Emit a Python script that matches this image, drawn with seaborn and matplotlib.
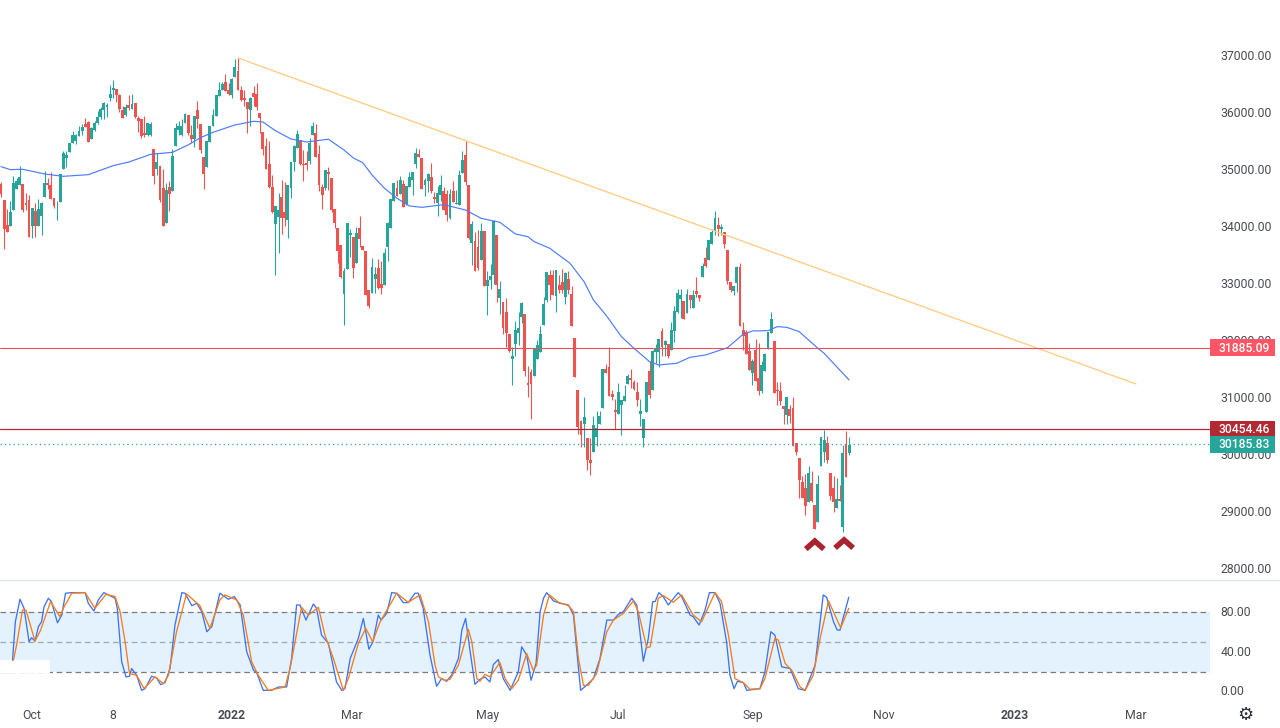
import matplotlib
matplotlib.use('Agg')
import matplotlib.pyplot as plt
from matplotlib.patches import Rectangle
from matplotlib.transforms import blended_transform_factory, ScaledTranslation
import seaborn as sns

# daily candles
opens = [
    34760, 34470, 34040, 34010, 34290, 34660, 34740, 34760, 34420, 34470,
    34020, 34280, 34020, 34190, 34520, 34770, 34740, 34510, 34380, 34440,
    35020, 35210, 35320, 35470, 35510, 35600, 35680, 35810, 35840, 35540,
    35700, 35830, 35930, 36050, 36110, 36260, 36400, 36420, 36320, 36050,
    35970, 36140, 36070, 36180, 35910, 35900, 35650, 35610, 35610, 35370,
    35020, 35070, 34680, 34070, 34700, 34630, 35420, 35700, 35610, 35830,
    35970, 35610, 35540, 36050, 35810, 35230, 35050, 35490, 35770, 35950,
    36300, 36400, 36540, 36400, 36320, 36630, 36740, 36400, 36260, 36190,
    36050, 36350, 36330, 36000, 35670, 35420, 35110, 34700, 34050, 34180,
    34530, 34260, 34120, 34680, 35140, 35390, 35530, 35110, 35120, 35160,
    35610, 35650, 35280, 34700, 34680, 34970, 34860, 34320, 33980, 33680,
    32830, 33260, 33860, 33830, 33370, 33980, 33670, 33580, 32900, 32840,
    33090, 33280, 33000, 32980, 33650, 33980, 34460, 34680, 34580, 34760,
    34400, 34700, 34830, 35110, 35280, 35210, 34740, 34810, 34880, 34530,
    34420, 34560, 34630, 34580, 34160, 34630, 34400, 34390, 34950, 35260,
    34740, 33720, 33760, 33650, 33420, 33930, 32970, 33070, 33160, 33860,
    32760, 32680, 32510, 32120, 31680, 31950, 32140, 32420, 32470, 31260,
    31460, 31390, 31680, 31810, 32280, 32720, 33160, 33160, 32790, 32980,
    33040, 32770, 33090, 32830, 32050, 31140, 30600, 30540, 30300, 29910,
    30050, 30320, 30540, 30830, 31510, 31540, 31070, 30790, 30720, 30880,
    30950, 31250, 31350, 31280, 31110, 30720, 30300, 30760, 31470, 31140,
    31810, 31810, 32180, 31930, 31950, 31840, 32180, 32510, 32740, 32700,
    32490, 32810, 32580, 32880, 32810, 33120, 33460, 33420, 33700, 33930,
    34040, 33970, 33910, 33600, 33040, 32880, 33020, 33300, 32190, 32160,
    31830, 31440, 31840, 31350, 31120, 31470, 31860, 32140, 32000, 31140,
    31120, 30860, 30700, 30810, 30830, 30210, 29950, 29530, 29420, 29180,
    29510, 29120, 28830, 29810, 30050, 30210, 29680, 29420, 29070, 29230,
    28740, 30190, 30040,
]
highs = [
    34790, 34470, 34320, 34450, 34900, 34860, 35070, 34760, 34600, 34560,
    34330, 34420, 34490, 34440, 34980, 34860, 34970, 34510, 34460, 34930,
    35330, 35330, 35470, 35680, 35630, 35770, 35810, 35910, 35860, 35760,
    35860, 36040, 36110, 36190, 36180, 36490, 36580, 36420, 36330, 36120,
    36160, 36320, 36330, 36180, 35950, 35900, 35950, 35830, 35840, 35370,
    35300, 35070, 35020, 34770, 34810, 35370, 35830, 35860, 35900, 36000,
    35970, 35790, 35950, 36210, 35810, 35230, 35510, 35770, 36070, 36320,
    36540, 36540, 36680, 36530, 36610, 36950, 36970, 36470, 36400, 36190,
    36280, 36470, 36530, 36000, 35670, 35560, 35510, 34910, 34370, 34600,
    34830, 34790, 34740, 35140, 35440, 35700, 35530, 35350, 35330, 35560,
    35840, 35810, 35440, 34760, 35000, 35050, 34860, 34320, 33980, 33680,
    33280, 34070, 33970, 33830, 34000, 34190, 33670, 33580, 32900, 33460,
    33300, 33440, 33400, 33630, 34090, 34490, 34770, 34830, 34900, 34830,
    34720, 34970, 34970, 35390, 35370, 35210, 34860, 34950, 35120, 34610,
    34720, 34910, 34700, 34650, 34670, 34810, 34650, 35000, 35330, 35510,
    34740, 34110, 33910, 33950, 34070, 33930, 33230, 33350, 34120, 33860,
    33050, 32680, 32760, 32120, 31900, 32350, 32510, 32680, 32470, 31560,
    31510, 31880, 32020, 32260, 32770, 33210, 33250, 33250, 33250, 33160,
    33260, 33210, 33230, 32970, 32050, 31140, 30610, 31020, 30300, 30300,
    30680, 30770, 30770, 31510, 31600, 31900, 31140, 30980, 31260, 30970,
    31230, 31420, 31510, 31320, 31280, 30980, 30630, 31280, 31650, 31840,
    31950, 32040, 32230, 32020, 31950, 32330, 32610, 32910, 32910, 32700,
    32910, 32810, 32900, 33120, 32810, 33370, 33650, 33770, 33970, 34280,
    34180, 34050, 33910, 33600, 33040, 32970, 33320, 33370, 32330, 32190,
    31970, 31680, 32040, 31970, 31650, 31790, 32160, 32510, 32000, 31280,
    31280, 30860, 31020, 30880, 31020, 30210, 29950, 29630, 29670, 29810,
    29720, 29120, 29650, 30320, 30440, 30330, 29680, 29630, 29600, 29470,
    30180, 30420, 30320,
]
lows = [
    34530, 33610, 33920, 34010, 34290, 34660, 34740, 34260, 34300, 33830,
    33800, 33830, 34020, 33860, 34520, 34670, 34490, 34330, 34120, 34440,
    35020, 35050, 35320, 35470, 35460, 35600, 35610, 35760, 35490, 35540,
    35680, 35810, 35900, 35900, 35930, 36210, 36260, 36190, 36020, 35910,
    35950, 36050, 36070, 35910, 35670, 35560, 35580, 35600, 35600, 34760,
    34910, 34440, 34020, 34070, 34280, 34630, 35420, 35610, 35600, 35830,
    35610, 35470, 35400, 35740, 35300, 34670, 35050, 35490, 35770, 35950,
    36300, 36400, 36390, 36320, 36260, 36630, 36400, 36210, 36120, 35650,
    35770, 36120, 36050, 35650, 35260, 35020, 34680, 34250, 33160, 33540,
    33880, 34020, 33810, 34510, 34980, 35390, 35090, 34810, 35000, 35110,
    35610, 35230, 34630, 34320, 34650, 34650, 34260, 33980, 33370, 33110,
    32280, 33260, 33470, 33110, 33370, 33650, 33600, 32810, 32580, 32840,
    32840, 32910, 32830, 32980, 33400, 33980, 34460, 34540, 34580, 34350,
    34390, 34700, 34560, 35040, 35230, 34670, 34540, 34610, 34600, 34420,
    34190, 34460, 34300, 34110, 34140, 34440, 34400, 34390, 34950, 34740,
    33790, 33330, 33230, 33250, 33420, 32970, 32460, 32910, 33000, 32680,
    32470, 32120, 31900, 31810, 31230, 31740, 31930, 32310, 31390, 31020,
    30630, 31390, 31680, 31810, 32280, 32680, 32720, 32810, 32510, 32840,
    32840, 32650, 32830, 32260, 31370, 30370, 30140, 30140, 29740, 29650,
    30050, 30160, 30540, 30830, 31440, 31030, 30970, 30460, 30720, 30350,
    30950, 31250, 31180, 31140, 30860, 30510, 30140, 30760, 31000, 31140,
    31610, 31540, 31740, 31740, 31700, 31840, 31980, 32490, 32400, 32390,
    32490, 32580, 32580, 32770, 32700, 33120, 33300, 33420, 33700, 33860,
    33840, 33860, 33630, 33000, 32860, 32810, 32860, 32260, 31840, 31770,
    31490, 31230, 31300, 31050, 31090, 31470, 31860, 32140, 31090, 30880,
    30880, 30540, 30540, 30560, 30160, 30000, 29250, 29250, 28950, 29180,
    29180, 28700, 28830, 29810, 29880, 29860, 29210, 29000, 29070, 29190,
    28650, 29610, 30000,
]
closes = [
    34580, 33970, 33920, 34260, 34770, 34800, 34880, 34300, 34390, 33830,
    34330, 34010, 34320, 34420, 34770, 34740, 34490, 34370, 34390, 34930,
    35300, 35260, 35470, 35610, 35610, 35680, 35760, 35760, 35490, 35740,
    35830, 35930, 36070, 36180, 36140, 36330, 36440, 36320, 36070, 35910,
    36110, 36090, 36160, 35930, 35860, 35600, 35610, 35830, 35810, 34900,
    35140, 34470, 34020, 34650, 34580, 35250, 35740, 35770, 35770, 35980,
    35650, 35540, 35950, 35900, 35350, 34930, 35510, 35770, 35970, 36320,
    36400, 36510, 36390, 36330, 36600, 36810, 36400, 36230, 36230, 36070,
    36260, 36280, 36110, 35910, 35370, 35020, 34700, 34260, 34370, 34300,
    34160, 34160, 34740, 35140, 35420, 35630, 35110, 35090, 35090, 35470,
    35770, 35230, 34740, 34560, 35000, 34930, 34300, 34070, 33580, 33120,
    33230, 34070, 33900, 33280, 33900, 33790, 33600, 32810, 32610, 33300,
    33180, 32930, 32930, 33540, 34070, 34490, 34770, 34540, 34830, 34350,
    34720, 34880, 34970, 35300, 35230, 34670, 34830, 34930, 34630, 34490,
    34600, 34740, 34300, 34210, 34580, 34440, 34420, 34910, 35180, 34790,
    33810, 34050, 33230, 33280, 33930, 32970, 33070, 33140, 34110, 32980,
    32910, 32230, 32140, 31830, 31740, 32190, 32230, 32670, 31470, 31230,
    31250, 31880, 31930, 32120, 32650, 33210, 32980, 32810, 33250, 32900,
    32900, 33190, 32900, 32260, 31370, 30490, 30350, 30670, 29910, 29860,
    30530, 30470, 30680, 31510, 31440, 31030, 31020, 30760, 31110, 30970,
    31040, 31390, 31320, 31160, 30970, 30770, 30630, 31280, 31050, 31830,
    31880, 32040, 31900, 32000, 31740, 32190, 32530, 32840, 32810, 32390,
    32830, 32720, 32810, 32830, 32760, 33320, 33320, 33770, 33910, 34160,
    33970, 34000, 33700, 33050, 32900, 32970, 33300, 32260, 32090, 31770,
    31490, 31650, 31300, 31120, 31580, 31770, 32160, 32390, 31090, 31120,
    30950, 30810, 31020, 30680, 30160, 30050, 29560, 29250, 29110, 29680,
    29190, 28700, 29490, 30320, 30260, 29910, 29280, 29180, 29230, 29190,
    30040, 29610, 30180,
]

# moving average, (bar, price) read at the bends
ma_bars = [
    0, 3, 7, 14, 20, 28, 36, 41, 48, 55, 60, 64, 68, 75, 81, 84, 88, 93, 98, 105,
    110, 113, 116, 119, 123, 127, 131, 135, 142, 149, 154, 160, 165, 169, 171,
    176, 182.5, 187, 190, 194, 199, 203, 208, 211, 216.7, 221, 226, 233, 238,
    241, 246, 249, 252, 256, 262, 264, 272,
]
ma_prices = [
    35059, 35006, 35012, 34930, 34889, 34918, 35077, 35140, 35275, 35310, 35439,
    35567, 35661, 35790, 35854, 35842, 35690, 35544, 35491, 35540,
    35351, 35211, 35129, 34912, 34679, 34503, 34369, 34345, 34392, 34298, 34152,
    34082, 33877, 33830, 33743, 33626, 33363, 33041, 32720, 32456, 32076, 31872,
    31638, 31579, 31609, 31714, 31755, 31883, 32117, 32176, 32182, 32252, 32240,
    32164, 31872, 31784, 31316,
]

# stochastic %K and %D
stoch_k_bars = [
    3.7, 4.6, 6.1, 7.4, 9.0, 9.8, 10.9, 12, 13, 13.8, 15.2, 16.2, 18.1, 19.5, 20.7,
    22.7, 27, 28, 29.8, 31.2, 33, 34.4, 36.6, 37.3, 38.7, 40.1, 41.2, 41.9, 43.5,
    45.1, 46.2, 48.3, 49.9, 51.2, 52.6, 54.2, 55.8, 58, 59, 61.2, 62.8, 64.4, 66,
    67.6, 70.2, 72.9, 74.8, 76.7, 78.8, 81, 82, 84.1, 86.8, 89, 91.6, 93.2, 94.8,
    95.9, 97.8, 100.2, 101.2, 102.8, 105, 107.6, 109.3, 110.3, 112, 114.6, 116.2,
    118, 119.3, 121, 121.9, 123.7, 125.3, 126.9, 129, 130.6, 132.8, 133.8, 135.4,
    137.6, 139.7, 141.3, 142.9, 144.5, 146.7, 147.8, 149, 150.4, 152, 153.6, 155.2,
    156.8, 157.9, 159.5, 161.1, 163.3, 165.9, 167, 168.6, 170, 171.6, 172.9, 174,
    175, 177.2, 179.3, 182, 183.6, 184.6, 185.9, 187.8, 190, 192.1, 194.3, 196.4,
    198, 199.6, 202.3, 203.9, 206, 207.6, 209, 209.8, 211, 212.4, 214, 217.2, 218.3,
    221, 222, 223.9, 225.8, 227.2, 229, 230.6, 232.7, 233.8, 235.1, 236.2, 238.1,
    239.2, 243.4, 245, 246.9, 248.2, 250.4, 253.1, 255.7, 257.9, 261.1, 262.1,
    263.7, 264.8, 267, 268.2, 269.1, 270.2, 271.9,
]
stoch_k = [
    31.6, 70.5, 93.3, 84.1, 50.2, 54.3, 50.9, 65.5, 70.5, 85.8, 94.3, 90.9, 69.5, 77.3, 99.4,
    100, 100, 89.2, 81.4, 92.6, 100, 97.7, 94.3, 84.1, 29.9, 14.6, 15.3, 23.1, 16.3,
    1, 2.7, 15.3, 13.6, 6.8, 8.8, 23.1, 67.2, 100, 99.4, 86.8, 89.2, 80.7, 60.4,
    65.5, 99.4, 93.3, 96, 87.5, 40, 21.4, 19, 1, 1, 4.4, 4.4, 33.3, 87.5,
    87.5, 72.2, 88.5, 84.1, 57, 48.5, 9.5, 1, 2.7, 33.3, 53.6, 73.9,
    42.7, 50.2, 77.3, 72.2, 79, 100, 99.4, 89.9, 89.9, 99.4, 99.4, 84.1,
    36.6, 5.1, 12.9, 10.2, 16.3, 33.3, 62.1, 73.9, 41.7, 7.1, 12.2, 14.6,
    9.5, 27.1, 32.2, 12.9, 1, 19.7, 45.1, 36.6, 11.2, 28.2, 80.7, 94.3,
    100, 91.6, 89.2, 87.5, 77.3, 43.4, 1, 6.1, 12.9, 33.3, 72.2, 72.2,
    78, 80.7, 94.3, 87.5, 30.5, 53.6, 90.9, 90.9, 100, 96, 87.5, 100, 96,
    77.3, 75.6, 67.2, 82.4, 100, 100, 89.2, 50.2, 16.3, 2.7, 10.2, 8.8,
    1, 2.7, 19.7, 60.4, 57, 24.8, 23.1, 2.7, 1, 26.5, 53.6,
    97.7, 95.3, 70.5, 62.1, 62.1, 75.6, 95.3,
]
stoch_d_bars = [
    4, 5, 6.9, 8, 10.9, 12.7, 15.9, 18.9, 20, 22.7, 27, 30.1, 33.7, 36.6, 38.2, 39.8,
    41.2, 43.5, 45.9, 49.4, 52.1, 53.7, 56.3, 59.5, 63.8, 67, 70.2, 71.8, 75.6, 77.7,
    80.4, 82.5, 85.7, 91.1, 92.7, 96.4, 98.6, 101.8, 103.9, 106.6, 109.8, 111.4, 114.6,
    117, 119.2, 121.6, 126.9, 130.6, 134.4, 137.1, 139.2, 140.3, 142.4, 144, 146.7,
    149.9, 151, 152.6, 153.6, 155.2, 156.8, 160, 161.7, 163.8, 165.9, 168.6, 170.7,
    171.8, 174, 175.9, 178.8, 182, 183.6, 185.2, 186.8, 188.4, 191, 194.3, 196.4,
    199.6, 202.8, 204.4, 207.1, 208.2, 210.8, 212.4, 215.6, 218.3, 222, 224.7, 229,
    231.1, 233.3, 235.4, 238.1, 240.2, 243.4, 245, 248.2, 249.3, 251.5, 253.6, 256.3,
    257.9, 260.5, 262.7, 265.4, 269.3, 271.9,
]
stoch_d = [
    31.6, 46.8, 82.4, 82.4, 50.9, 62, 90.9, 75.6, 84.1, 99.4, 100, 84.1, 98.3, 96, 80.7, 50.2,
    18, 16.3, 2.7, 14.6, 7.8, 16.3, 60.4, 98.7, 86.8, 63.8, 92.6, 97.7, 92.6, 77.3,
    29.9, 16.3, 1, 4.4, 23.1, 85.1, 77.3, 85.1, 57, 33.3, 1, 12.9, 48.5,
    63.8, 50.2, 70.5, 99.4, 90.2, 97.7, 70.5, 26.5, 14.6, 11.2, 12.2, 26.5,
    62.7, 50.2, 12.9, 10.2, 17.3, 14.6, 29.2, 12.9, 2.7, 11.2, 38.3, 21.4,
    26.5, 77.3, 97.7, 90.2, 86.8, 80.7, 33.3, 6.1, 6.1, 18, 60.4, 72.2,
    79, 91.6, 80.7, 44.1, 45.1, 94.3, 97, 90.2, 97.7, 77.3, 70.5, 100,
    90.9, 57, 12.9, 8.8, 2.1, 2.7, 12.9, 53.6, 51.9, 28.2, 21.4, 4.4,
    1, 16.3, 53.6, 91.6, 64.4, 84.1,
]

# levels and drawings
trend_bars = [76, 364]
trend_prices = [36965, 31246]
support_level = 31885.09
resist_level = 30454.46
last_close = 30185.83
chevron_bars = [261, 270.4]
chevron_prices = [28490, 28510]

price_ticks = [28000, 29000, 30000, 31000, 32000, 33000, 34000, 35000, 36000, 37000]
stoch_ticks = [0, 40, 80]
stoch_levels = [80, 50, 20]
date_ticks = [10, 36, 74, 112.6, 156, 198, 241, 283, 325, 364]
date_labels = ['Oct', '8', '2022', 'Mar', 'May', 'Jul', 'Sep', 'Nov', '2023', 'Mar']

UP = '#26a69a'
DOWN = '#ef5350'
TEXT = '#4a4c55'
W, H = 1280, 728

sns.set_theme(style='white')
plt.rcParams['font.family'] = ['Roboto', 'DejaVu Sans']

fig = plt.figure(figsize=(W / 100, H / 100), dpi=100, facecolor='white')
ax = fig.add_axes([0, 1 - 579 / H, 1210 / W, 579 / H])
ax_s = fig.add_axes([0, 1 - 702 / H, 1210 / W, 122 / H], sharex=ax)

# candles
bars = list(range(len(opens)))
colors = [UP if c >= o else DOWN for o, c in zip(opens, closes)]
ax.vlines(bars, lows, highs, colors=colors, linewidth=0.8, zorder=3)
ax.bar(bars, [abs(c - o) for o, c in zip(opens, closes)],
       bottom=[min(o, c) for o, c in zip(opens, closes)],
       width=0.92, color=colors, linewidth=0, zorder=3)

# moving average and trend line
sns.lineplot(x=ma_bars, y=ma_prices, ax=ax, color='#4d7cf5', linewidth=0.85,
             sort=False, estimator=None, zorder=4)
sns.lineplot(x=trend_bars, y=trend_prices, ax=ax, color='#ffcc80', linewidth=0.95,
             sort=False, estimator=None, zorder=4)

ax.axhline(support_level, color='#e8505b', linewidth=0.8, zorder=4)
ax.axhline(resist_level, color='#b22833', linewidth=0.9, zorder=4)
ax.axhline(last_close, color=UP, linewidth=0.9, linestyle=(0, (1, 2.5)), zorder=4)

# double bottom chevrons
for b, p in zip(chevron_bars, chevron_prices):
    ax.plot([b - 2.9, b, b + 2.9], [p - 140, p, p - 140], color='#a8242f',
            linewidth=4, solid_joinstyle='miter', solid_capstyle='butt', zorder=5)

# price labels on the scale
label_tr = blended_transform_factory(ax.transAxes, ax.transData)
for price, col in [(support_level, '#ff5566'), (resist_level, '#b22833'), (last_close, UP)]:
    ax.add_patch(Rectangle((1.0, price - 150), 65 / 1210, 300, transform=label_tr,
                           facecolor=col, edgecolor='none', clip_on=False, zorder=6))
    ax.text(1.0 + 34 / 1210, price - 8, f'{price:.2f}', transform=label_tr, color='white',
            fontsize=8.7, fontweight='medium', ha='center', va='center', zorder=7, clip_on=False)

ax.set_xlim(-1 / 3.118, 1209 / 3.118)
ax.set_ylim(27825, 37982)
ax.yaxis.tick_right()
ax.set_yticks(price_ticks)
ax.set_yticklabels([f'{t:.2f}' for t in price_ticks])
ax.tick_params(axis='y', length=0, pad=7.5, labelsize=8.8, labelcolor=TEXT)
ax.tick_params(axis='x', length=0, labelbottom=False)
ax.grid(False)
sns.despine(ax=ax, left=True, bottom=True, right=True, top=True)

# stochastic pane
ax_s.axhspan(20, 80, color='#e3f2fd', linewidth=0, zorder=1)
for lev, col in zip(stoch_levels, ['#787b86', '#a3a6af', '#787b86']):
    ax_s.axhline(lev, color=col, linewidth=0.9, linestyle=(0, (4.5, 3)), zorder=2)
ax_s.axhspan(19, 31.4, xmin=0, xmax=50 / 1210, color='white', linewidth=0, zorder=3)

sns.lineplot(x=stoch_k_bars, y=stoch_k, ax=ax_s, color='#3d74f5', linewidth=0.95,
             sort=False, estimator=None, zorder=4)
sns.lineplot(x=stoch_d_bars, y=stoch_d, ax=ax_s, color='#f57c1f', linewidth=0.95,
             sort=False, estimator=None, zorder=5)

ax_s.set_ylim(-10.8, 112.8)
ax_s.yaxis.tick_right()
ax_s.set_yticks(stoch_ticks)
ax_s.set_yticklabels([f'{t:.2f}' for t in stoch_ticks])
ax_s.tick_params(axis='y', length=0, pad=7.5, labelsize=8.8, labelcolor=TEXT)
ax_s.set_xticks(date_ticks)
ax_s.set_xticklabels(date_labels)
ax_s.tick_params(axis='x', length=0, pad=5, labelsize=8.8, labelcolor=TEXT)
for lab in ax_s.get_xticklabels():
    if lab.get_text() in ('2022', '2023'):
        lab.set_fontweight('bold')
ax_s.grid(False)
sns.despine(ax=ax_s, left=True, bottom=True, right=True, top=True)

# price labels sit a pixel above the level
nudge = ScaledTranslation(0, 1 / 100, fig.dpi_scale_trans)
for lab in ax.get_yticklabels() + ax_s.get_yticklabels():
    lab.set_transform(lab.get_transform() + nudge)

# separator between panes and the settings gear
fig.add_artist(plt.Line2D([0, 1], [1 - 579.5 / H] * 2, color='#e0e3eb', linewidth=1))
fig.text(1245 / W, 1 - 714.5 / H, '\u2699', family='DejaVu Sans', fontsize=13,
         color='#2a2e39', ha='center', va='center')

fig.savefig('out.png', dpi=100)
